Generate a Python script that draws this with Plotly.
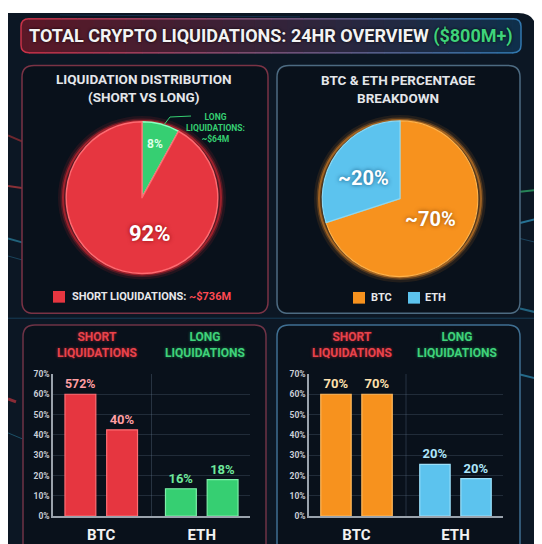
import plotly.graph_objects as go

# page is rendered with an 8px body margin -> figure is offset by 8px
OFF = 8
W, H = 534, 536

# ---------------- data ----------------
title_main = "TOTAL CRYPTO LIQUIDATIONS: 24HR OVERVIEW "
title_total = "($800M+)"

dist_title = "LIQUIDATION DISTRIBUTION<br>(SHORT VS LONG)"
dist_labels = ["Long Liquidations", "Short Liquidations"]
dist_values = [8, 92]
dist_text = ["8%", "92%"]
long_label = "LONG<br>LIQUIDATIONS:<br>~$64M"
short_label = "SHORT LIQUIDATIONS: "
short_amount = "~$736M"

coin_title = "BTC & ETH PERCENTAGE<br>BREAKDOWN"
coin_labels = ["BTC", "ETH"]
coin_values = [70, 30]
coin_text = ["~70%", "~20%"]

bar_categories = ["BTC", "ETH"]
group_titles = ["SHORT<br>LIQUIDATIONS", "LONG<br>LIQUIDATIONS"]
left_first = [60, 13.5]
left_second = [42.5, 18]
left_first_text = ["572%", "16%"]
left_second_text = ["40%", "18%"]
right_first = [60, 25.5]
right_second = [60, 18.5]
right_first_text = ["70%", "20%"]
right_second_text = ["70%", "20%"]
y_ticks = [0, 10, 20, 30, 40, 50, 60, 70]
y_tick_labels = ["0%", "10%", "20%", "30%", "40%", "50%", "60%", "70%"]

# ---------------- style ----------------
FONT = "Roboto, sans-serif"
RED = "#e63640"
GREEN = "#36cf72"
ORANGE = "#f7921e"
BLUE = "#5cc3ee"
BG = "#0c1724"
PANEL = "#09111b"


def X(p):
    return (p - OFF) / W


def Y(p):
    return 1 - (p - OFF) / H


def pt(x, y):
    return f"{X(x):.5f},{Y(y):.5f}"


def rrect(x0, y0, x1, y1, r):
    return (f"M {pt(x0 + r, y0)} L {pt(x1 - r, y0)} Q {pt(x1, y0)} {pt(x1, y0 + r)} "
            f"L {pt(x1, y1 - r)} Q {pt(x1, y1)} {pt(x1 - r, y1)} L {pt(x0 + r, y1)} "
            f"Q {pt(x0, y1)} {pt(x0, y1 - r)} L {pt(x0, y0 + r)} Q {pt(x0, y0)} {pt(x0 + r, y0)} Z")


def lerp(c1, c2, t):
    return "rgba(" + ",".join(f"{c1[i] + (c2[i] - c1[i]) * t:.0f}" for i in range(3)) + f",{c1[3] + (c2[3] - c1[3]) * t:.2f})"


shapes = []


def add_path(path, fill=None, line=None, width=1, layer="below"):
    shapes.append(dict(type="path", xref="paper", yref="paper", path=path,
                       fillcolor=fill or "rgba(0,0,0,0)",
                       line=dict(color=line or "rgba(0,0,0,0)", width=width if line else 0),
                       layer=layer))


def add_line(x0, y0, x1, y1, color, width=1, layer="below"):
    shapes.append(dict(type="line", xref="paper", yref="paper", x0=X(x0), y0=Y(y0),
                       x1=X(x1), y1=Y(y1), line=dict(color=color, width=width), layer=layer))


# outer dark card
add_path(f"M {pt(8, 8)} L {pt(518, 8)} Q {pt(536, 8)} {pt(536, 26)} L {pt(536, 560)} L {pt(8, 560)} Z", fill=BG)

# background light streaks
streaks = [
    (8, 134, 22, 140, "rgba(230,60,60,0.45)", 2),
    (8, 186, 22, 188, "rgba(240,70,70,0.55)", 2),
    (8, 240, 22, 244, "rgba(60,190,230,0.45)", 2),
    (8, 258, 22, 262, "rgba(60,170,220,0.30)", 1),
    (8, 405, 16, 408, "rgba(240,60,70,0.55)", 3),
    (8, 440, 22, 446, "rgba(60,190,230,0.35)", 1),
    (520, 192, 536, 190, "rgba(60,220,130,0.55)", 2),
    (520, 224, 536, 220, "rgba(60,190,240,0.55)", 2),
    (520, 240, 536, 244, "rgba(60,170,230,0.30)", 1),
    (520, 312, 536, 316, "rgba(60,190,240,0.45)", 2),
    (520, 380, 536, 384, "rgba(60,190,240,0.50)", 2),
    (8, 322, 536, 322, "rgba(50,150,210,0.30)", 1),
    (60, 10, 300, 12, "rgba(50,120,190,0.25)", 1),
]
for s in streaks:
    add_line(*s)

# title bar with red -> blue gradient
tx0, ty0, tx1, ty1, tr = 21, 14, 521, 49, 8
c_fill_l = (95, 24, 40, 0.95)
c_fill_r = (16, 48, 78, 0.95)
c_line_l = (200, 50, 72, 1.0)
c_line_r = (50, 120, 175, 1.0)
add_path(f"M {pt(tx0 + tr + 1, ty0)} L {pt(tx0 + tr, ty0)} Q {pt(tx0, ty0)} {pt(tx0, ty0 + tr)} "
         f"L {pt(tx0, ty1 - tr)} Q {pt(tx0, ty1)} {pt(tx0 + tr, ty1)} L {pt(tx0 + tr + 1, ty1)} Z",
         fill=lerp(c_fill_l, c_fill_l, 0))
add_path(f"M {pt(tx1 - tr - 1, ty0)} L {pt(tx1 - tr, ty0)} Q {pt(tx1, ty0)} {pt(tx1, ty0 + tr)} "
         f"L {pt(tx1, ty1 - tr)} Q {pt(tx1, ty1)} {pt(tx1 - tr, ty1)} L {pt(tx1 - tr - 1, ty1)} Z",
         fill=lerp(c_fill_r, c_fill_r, 0))
N = 30
seg = (tx1 - tx0 - 2 * tr) / N
for i in range(N):
    a = tx0 + tr + i * seg
    b = a + seg + 0.6
    t = (i + 0.5) / N
    add_path(f"M {pt(a, ty0)} L {pt(b, ty0)} L {pt(b, ty1)} L {pt(a, ty1)} Z", fill=lerp(c_fill_l, c_fill_r, t))
for i in range(N):
    a = tx0 + tr + i * seg
    b = a + seg + 0.3
    t = (i + 0.5) / N
    add_line(a, ty0, b, ty0, lerp(c_line_l, c_line_r, t), 1.5)
    add_line(a, ty1, b, ty1, lerp(c_line_l, c_line_r, t), 1.5)
add_path(f"M {pt(tx0 + tr + 0.5, ty0)} L {pt(tx0 + tr, ty0)} Q {pt(tx0, ty0)} {pt(tx0, ty0 + tr)} "
         f"L {pt(tx0, ty1 - tr)} Q {pt(tx0, ty1)} {pt(tx0 + tr, ty1)} L {pt(tx0 + tr + 0.5, ty1)}",
         line=lerp(c_line_l, c_line_l, 0), width=1.5)
add_path(f"M {pt(tx1 - tr - 0.5, ty0)} L {pt(tx1 - tr, ty0)} Q {pt(tx1, ty0)} {pt(tx1, ty0 + tr)} "
         f"L {pt(tx1, ty1 - tr)} Q {pt(tx1, ty1)} {pt(tx1 - tr, ty1)} L {pt(tx1 - tr - 0.5, ty1)}",
         line=lerp(c_line_r, c_line_r, 0), width=1.5)

# panels
add_path(rrect(22, 62, 268, 317, 12), fill=PANEL, line="#7a3345", width=1.5)
add_path(rrect(277, 62, 520, 317, 12), fill=PANEL, line="#4d6b82", width=1.5)
add_path(rrect(23, 329, 266, 600, 12), fill=PANEL, line="#6e3346", width=1.5)
add_path(rrect(277, 329, 520, 600, 12), fill=PANEL, line="#3f6f92", width=1.5)

# pie glows
for (cx, cy, r, col) in [(142, 198, 78, "255,45,55"), (400, 199, 80, "255,150,40")]:
    for w, a in [(10, 0.10), (5, 0.22), (2, 0.45)]:
        shapes.append(dict(type="circle", xref="paper", yref="paper",
                           x0=X(cx - r - 1), x1=X(cx + r + 1), y0=Y(cy + r + 1), y1=Y(cy - r - 1),
                           line=dict(color=f"rgba({col},{a})", width=w), layer="below"))

# legend squares
shapes.append(dict(type="rect", xref="paper", yref="paper", x0=X(53), x1=X(65), y0=Y(306), y1=Y(294),
                   fillcolor=RED, line=dict(width=0)))
shapes.append(dict(type="rect", xref="paper", yref="paper", x0=X(353), x1=X(365), y0=Y(307), y1=Y(295),
                   fillcolor=ORANGE, line=dict(width=0)))
shapes.append(dict(type="rect", xref="paper", yref="paper", x0=X(408), x1=X(420), y0=Y(307), y1=Y(295),
                   fillcolor=BLUE, line=dict(width=0)))

# leader line for long liquidations label
shapes.append(dict(type="path", xref="paper", yref="paper",
                   path=f"M {pt(164, 123)} L {pt(170, 115)} L {pt(191, 114)}",
                   line=dict(color=GREEN, width=1), layer="above"))

# dividers in bar charts
for xr, yr in [("x", "y"), ("x2", "y2")]:
    shapes.append(dict(type="line", xref=xr, yref=yr, x0=0.5, x1=0.5, y0=0, y1=70,
                       line=dict(color="rgba(120,140,165,0.28)", width=1), layer="below"))

fig = go.Figure()

# pies
fig.add_trace(go.Pie(labels=dist_labels, values=dist_values, sort=False, direction="clockwise", rotation=0,
                     marker=dict(colors=[GREEN, RED], line=dict(color=["#8dffc0", "#ff6a70"], width=1.5)),
                     textinfo="none", hoverinfo="skip", showlegend=False,
                     domain=dict(x=[X(64), X(220)], y=[Y(276), Y(120)])))
fig.add_trace(go.Pie(labels=coin_labels, values=coin_values, sort=False, direction="clockwise", rotation=0,
                     marker=dict(colors=[ORANGE, BLUE], line=dict(color=["#ffb24a", "#8ad8f5"], width=1.2)),
                     textinfo="none", hoverinfo="skip", showlegend=False,
                     domain=dict(x=[X(320), X(480)], y=[Y(279), Y(119)])))


# bars
def bars(first, second, ftext, stext, colors, lines, tcolors, xa, ya):
    for vals, txt in [(first, ftext), (second, stext)]:
        fig.add_trace(go.Bar(x=bar_categories, y=vals, text=txt, textposition="outside",
                             cliponaxis=False,
                             textfont=dict(family=FONT, size=13, color=tcolors, weight="bold"),
                             marker=dict(color=colors, line=dict(color=lines, width=1.2)),
                             xaxis=xa, yaxis=ya, showlegend=False, hoverinfo="skip"))


bars(left_first, left_second, left_first_text, left_second_text,
     [RED, GREEN], ["#ff6d73", "#7cf0a8"], ["#ff9ea2", "#6fe89c"], "x", "y")
bars(right_first, right_second, right_first_text, right_second_text,
     [ORANGE, BLUE], ["#ffb95c", "#9be0fa"], ["#ffe0ad", "#aee6fb"], "x2", "y2")

axis_common_x = dict(type="category", range=[-0.48, 1.48], showgrid=False, showline=True,
                     linecolor="#9aa3ad", linewidth=2, ticks="", zeroline=False, ticklabelstandoff=4,
                     tickfont=dict(family=FONT, size=15, color="#f2f2f2", weight="bold"))
axis_common_y = dict(range=[0, 70], tickvals=y_ticks, ticktext=y_tick_labels, showgrid=True,
                     gridcolor="rgba(120,140,165,0.22)", gridwidth=1, showline=True,
                     linecolor="#9aa3ad", linewidth=1.5, zeroline=False, ticks="",
                     tickfont=dict(family=FONT, size=8.5, color="#c9ced6", weight="bold"))

ann = []


def A(text, x, y, size, color="#eef0f4", xanchor="center", shadow=None):
    f = dict(family=FONT, size=size, color=color, weight="bold")
    if shadow:
        f["shadow"] = shadow
    ann.append(dict(text=text, x=X(x), y=Y(y), xref="paper", yref="paper",
                    showarrow=False, xanchor=xanchor, yanchor="middle", font=f))


A(f"{title_main}<span style='color:#3fd27a'>{title_total}</span>", 271, 32, 18, "#f3f3f3",
  shadow="0px 0px 3px rgba(0,0,0,0.9)")
A(dist_title, 143, 85, 13.5, "#e4e6ea")
A(coin_title, 398, 86, 13.5, "#e4e6ea")
A(dist_text[1], 150, 235, 22, "#ffffff", shadow="0px 0px 4px rgba(120,0,0,0.8)")
A(dist_text[0], 155, 143, 12, "#dfffe9")
A(long_label, 215, 126, 8.5, GREEN)
A(coin_text[0], 430, 220, 20, "#ffffff", shadow="0px 0px 4px rgba(120,60,0,0.8)")
A(coin_text[1], 363, 178, 20, "#ffffff", shadow="0px 0px 4px rgba(0,60,100,0.8)")
A(f"{short_label}<span style='color:#ff4a52'>{short_amount}</span>", 70, 300, 11, "#e8e8ea", xanchor="left")
A(coin_labels[0], 369, 301, 11, "#e8e8ea", xanchor="left")
A(coin_labels[1], 423, 301, 11, "#e8e8ea", xanchor="left")
A(group_titles[0], 97, 350, 12, "#e8434c", shadow="0px 0px 3px rgba(255,40,50,0.6)")
A(group_titles[1], 205, 350, 12, "#3fd27a", shadow="0px 0px 3px rgba(40,220,110,0.5)")
A(group_titles[0], 352, 350, 12, "#e8434c", shadow="0px 0px 3px rgba(255,40,50,0.6)")
A(group_titles[1], 457, 350, 12, "#3fd27a", shadow="0px 0px 3px rgba(40,220,110,0.5)")

fig.update_layout(
    width=W, height=H, margin=dict(l=0, r=0, t=0, b=0),
    paper_bgcolor="#ffffff", plot_bgcolor="rgba(0,0,0,0)",
    barmode="group", bargap=0.17, bargroupgap=0.26,
    xaxis=dict(domain=[X(53), X(250)], anchor="y", **axis_common_x),
    yaxis=dict(domain=[Y(525.7), Y(379.3)], anchor="x", **axis_common_y),
    xaxis2=dict(domain=[X(309), X(503)], anchor="y2", **axis_common_x),
    yaxis2=dict(domain=[Y(525.7), Y(379.3)], anchor="x2", **axis_common_y),
    shapes=shapes, annotations=ann,
    font=dict(family=FONT),
)

fig.write_html("out.html")
